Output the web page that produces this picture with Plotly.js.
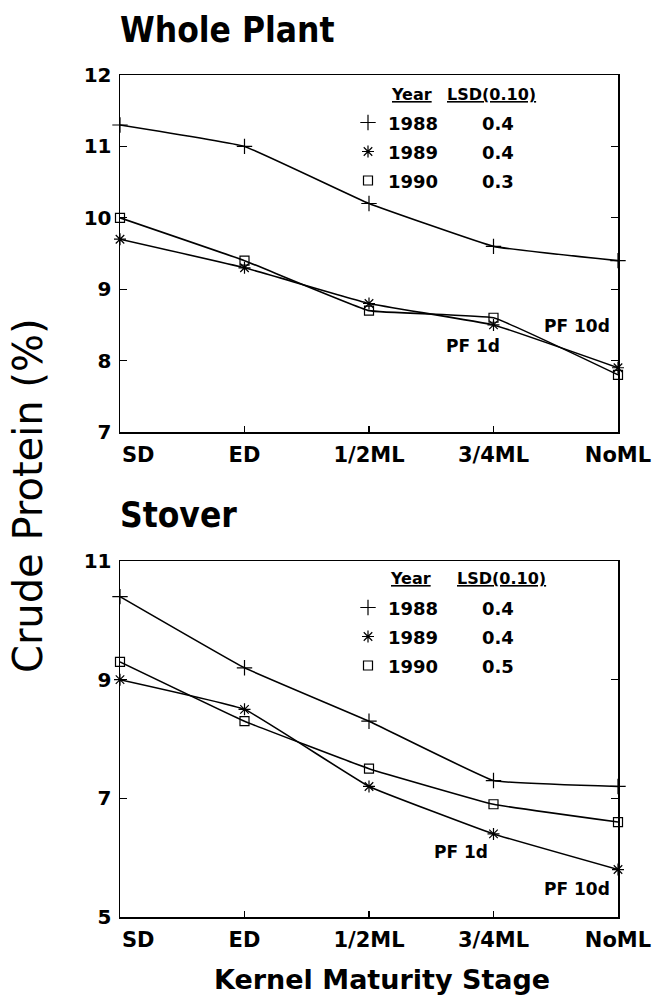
<!DOCTYPE html>
<html><head><meta charset="utf-8">
<script src="https://cdn.plot.ly/plotly-3.0.1.min.js"></script>
<style>html,body{margin:0;padding:0;background:#fff}</style>
</head><body><div id="chart" style="width:654px;height:995px"></div>
<script>
// ---- data ----
const stages = ["SD", "ED", "1/2ML", "3/4ML", "NoML"];
const years = ["1988", "1989", "1990"];
const wholeLSD = ["0.4", "0.4", "0.3"];
const stoverLSD = ["0.4", "0.4", "0.5"];
const whole1988 = [11.3, 11.0, 10.2, 9.6, 9.4];
const whole1989 = [9.7, 9.3, 8.8, 8.5, 7.9];
const whole1990 = [10.0, 9.4, 8.7, 8.6, 7.8];
const stover1988 = [10.4, 9.2, 8.3, 7.3, 7.2];
const stover1989 = [9.0, 8.5, 7.2, 6.4, 5.8];
const stover1990 = [9.3, 8.3, 7.5, 6.9, 6.6];
const wholeTicks = [7, 8, 9, 10, 11, 12];
const stoverTicks = [5, 7, 9, 11];

// ---- build ----
const W = 654, H = 995;
const px = x => x / W, py = y => 1 - y / H;
const xs = stages.map((_, i) => i);
const NB = "\u00a0";
const tickText = stages.map((s, i) => i === 0 ? NB.repeat(5) + s : s);
const symbols = ["cross-thin-open", "asterisk-open", "square-open"];
const msize = [11, 10, 9];

const traces = [];
function addPanel(series, lsd, xa, ya, leg) {
  series.forEach((vals, k) => {
    traces.push({x: xs, y: vals, xaxis: xa, yaxis: ya, mode: "lines", showlegend: false,
      line: {color: "black", width: 1.6, shape: "spline", smoothing: 0.25}, hoverinfo: "skip"});
  });
  series.forEach((vals, k) => {
    traces.push({x: xs, y: vals, xaxis: xa, yaxis: ya, mode: "markers", legend: leg,
      name: '<span style="font-size:18px">' + years[k] + NB.repeat(7) + lsd[k] + '</span>',
      marker: {symbol: symbols[k], size: msize[k], color: "black", line: {color: "black", width: 1.2}},
      cliponaxis: false});
  });
}
addPanel([whole1988, whole1989, whole1990], wholeLSD, "x", "y", "legend");
addPanel([stover1988, stover1989, stover1990], stoverLSD, "x2", "y2", "legend2");

const tickFont = {family: "DejaVu Sans", size: 21, weight: "bold", color: "black"};
const yFont = {family: "DejaVu Sans", size: 20, weight: "bold", color: "black"};
function xAxis(anchor) {
  return {domain: [px(120), px(618)], anchor: anchor, range: [0, 4], tickmode: "array", tickvals: xs,
    ticktext: tickText, ticks: "inside", ticklen: 6, tickwidth: 1.3, tickcolor: "black",
    showline: true, linecolor: "black", linewidth: 1.5, mirror: true, showgrid: false, zeroline: false,
    tickfont: tickFont, ticklabelstandoff: 3, fixedrange: true};
}
function yAxis(anchor, top, bottom, range, ticks) {
  return {domain: [py(bottom), py(top)], anchor: anchor, range: range, tickmode: "array", tickvals: ticks,
    ticks: "inside", ticklen: 7, tickwidth: 1.3, tickcolor: "black",
    showline: true, linecolor: "black", linewidth: 1.5, mirror: "ticks", showgrid: false, zeroline: false,
    tickfont: yFont, ticklabelstandoff: 3, fixedrange: true};
}
const legBase = {xanchor: "left", yanchor: "top", bgcolor: "rgba(0,0,0,0)", borderwidth: 0,
  font: {family: "DejaVu Sans", size: 20, weight: "bold", color: "black"}, itemwidth: 30,
  itemclick: false, itemdoubleclick: false};

function ann(text, x, y, size, opts) {
  return Object.assign({text: text, xref: "paper", yref: "paper", x: px(x), y: py(y), showarrow: false,
    xanchor: "left", yanchor: "middle", font: {family: "DejaVu Sans", size: size, color: "black"}}, opts || {});
}
const boldF = s => ({family: "DejaVu Sans", size: s, color: "black", weight: "bold"});
const titleF = s => ({family: "DejaVu Sans Condensed, DejaVu Sans", size: s, color: "black", weight: "bold"});

const annotations = [
  ann("Whole Plant", 118, 30, 35, {font: titleF(35)}),
  ann("Stover", 118, 515, 35, {font: titleF(35)}),
  ann("Crude" + NB + "Protein" + NB + "(%)", 28, 496, 40, {xanchor: "center", textangle: -90}),
  ann("Kernel" + NB + "Maturity" + NB + "Stage", 382, 979, 27, {xanchor: "center", font: boldF(27)}),
  ann("<u>Year</u>", 389, 95, 16, {font: boldF(16)}),
  ann("<u>LSD(0.10)</u>", 445, 95, 16, {font: boldF(16)}),
  ann("<u>Year</u>", 388, 578, 16, {font: boldF(16)}),
  ann("<u>LSD(0.10)</u>", 455, 578, 16, {font: boldF(16)}),
  ann("PF 10d", 542, 326, 17, {font: boldF(17)}),
  ann("PF 1d", 444, 346, 17, {font: boldF(17)}),
  ann("PF 1d", 432, 852, 17, {font: boldF(17)}),
  ann("PF 10d", 542, 889, 17, {font: boldF(17)})
];

const layout = {
  width: W, height: H, margin: {l: 0, r: 0, t: 0, b: 0}, paper_bgcolor: "white", plot_bgcolor: "white",
  font: {family: "DejaVu Sans", color: "black"}, showlegend: true, hovermode: false,
  xaxis: xAxis("y"), yaxis: yAxis("x", 75, 432, [7, 12], wholeTicks),
  xaxis2: xAxis("y2"), yaxis2: yAxis("x2", 561, 917, [5, 11], stoverTicks),
  legend: Object.assign({x: px(348), y: py(103)}, legBase),
  legend2: Object.assign({x: px(348), y: py(588)}, legBase),
  annotations: annotations
};
Plotly.newPlot("chart", traces, layout, {displayModeBar: false, staticPlot: true});
</script></body></html>
